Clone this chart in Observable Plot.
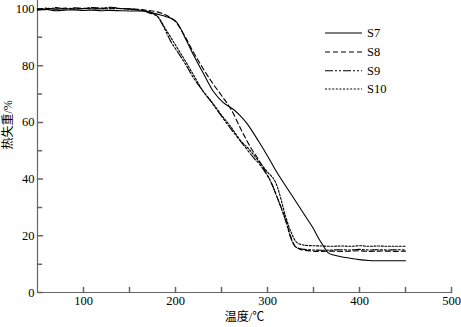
<!DOCTYPE html>
<html><head><meta charset="utf-8">
<script src="https://cdn.jsdelivr.net/npm/d3@7"></script>
<script src="https://cdn.jsdelivr.net/npm/@observablehq/plot@0.6"></script>
<style>
body{margin:0;background:#fff}
#c{position:relative;width:461px;height:327px}
#c svg{position:absolute;left:0;top:0}
#c text{font-family:"Liberation Serif","Tinos","Times New Roman","DejaVu Serif",serif}
#c text.cjk{font-family:"Liberation Serif","Noto Sans CJK SC",serif}
</style>
</head><body><div id="c"></div>
<script>
const seriesNames = ["S7", "S8", "S9", "S10"];
const xMajor = [100, 200, 300, 400, 500];
const xMinor = [150, 250, 350, 450];
const yMajor = [0, 20, 40, 60, 80, 100];
const yMinor = [10, 30, 50, 70, 90];
const xLabel = "温度/℃";
const yLabel = "热失重/%";

const s7T = [50,60,70,80,90,100,110,120,130,140,150,160,170,180,190,200,212,220,230,241,252,262,270,278,290,303,310,325,340,350,355,361,366,372,380,390,400,410,420,430,440,450];
const s7V = [99.6,99.8,99.4,99.6,99.7,99.5,99.6,99.4,99.5,99.4,99.3,99.3,99.0,98.2,97.3,95.8,88.8,83.5,77.5,71,67,64.8,62.5,59.5,53.5,46.5,42.5,35,27.5,22.5,19.4,16.3,14,13.2,12.6,12.1,11.6,11.3,11.2,11.2,11.2,11.2];

const s8T = [50,60,70,80,90,100,110,120,130,140,150,160,170,180,190,200,210,220,230,240,250,260,272,282,290,303,310,320,325,330,335,340,350,360,370,380,390,400,410,420,430,440,450];
const s8V = [99.9,100.2,100.0,100.3,100.1,100.2,100.0,100.2,100.3,100.1,100.0,99.9,99.5,99.0,97.8,95.5,90.5,84.5,79,74,69.5,64.8,57,51,47,39.5,34,25.5,20,16.3,15.3,14.9,14.6,14.5,14.6,14.5,14.6,14.7,14.5,14.6,14.6,14.5,14.6];

const s9T = [50,60,70,80,90,100,110,120,130,140,150,160,165,170,180,185,195,200,210,220,227,238,256,274,285,292,303,310,320,325,330,335,340,350,360,370,380,390,400,410,420,430,440,450];
const s9V = [100.1,99.8,100.5,100.0,100.4,100.2,100.5,100.3,100.6,100.2,100.1,99.7,99.5,98.8,97.5,95,88.5,86,81,75.5,72.3,67.6,59.5,52,47.5,45,39.4,34,25,19.5,16.3,15.5,15.2,15.0,14.9,15.0,15.1,15.0,15.2,15.0,15.1,15.0,15.1,15.0];

const s10T = [50,60,70,80,90,100,110,120,130,140,150,160,170,180,190,200,210,220,230,240,249,260,271,280,290,300,308,320,326,332,340,350,360,370,380,390,400,410,420,430,440,450];
const s10V = [99.8,100.3,99.9,100.1,100.0,100.2,100.3,100.0,100.1,100.2,99.9,99.6,99.2,97.5,92.5,87.3,82,76.5,71,67,63,58.5,53.5,50.5,46.5,42.5,39.4,26.5,21,17.6,16.7,16.5,16.4,16.3,16.4,16.3,16.5,16.3,16.4,16.3,16.3,16.3];

const seriesT = [s7T, s8T, s9T, s10T];
const seriesV = [s7V, s8V, s9V, s10V];
const dashes = [null, "5,3", "8,2,2,2,2,2", "2,1.6"];

const rows = [];
seriesNames.forEach((name, k) => {
  seriesT[k].forEach((t, i) => rows.push({series: name, t, v: seriesV[k][i]}));
});

const upTick = {draw(ctx, l) { ctx.moveTo(0, 0); ctx.lineTo(0, -l); }};
const axisGray = "#666";

const lineMarks = seriesNames.map((name, k) =>
  Plot.line(rows.filter(d => d.series === name), {
    x: "t", y: "v", stroke: "#000", strokeWidth: 1.1,
    strokeDasharray: dashes[k], curve: "catmull-rom"
  })
);

const plot = Plot.plot({
  width: 461, height: 327,
  marginLeft: 37, marginRight: 10, marginTop: 0, marginBottom: 35,
  style: {fontSize: "12px", background: "#fff", color: "#000"},
  x: {domain: [50, 500]},
  y: {domain: [0, 103]},
  marks: [
    Plot.ruleY([0], {stroke: axisGray, strokeWidth: 1.2}),
    Plot.ruleX([50], {stroke: axisGray, strokeWidth: 1.2}),
    Plot.vector(xMajor, {x: d => d, y: () => 0, length: 5, rotate: 0, anchor: "start", shape: upTick, stroke: axisGray}),
    Plot.vector(xMinor, {x: d => d, y: () => 0, length: 5, rotate: 0, anchor: "start", shape: upTick, stroke: axisGray}),
    Plot.vector(yMajor, {x: () => 50, y: d => d, length: 5, rotate: 90, anchor: "start", shape: upTick, stroke: axisGray}),
    Plot.vector(yMinor, {x: () => 50, y: d => d, length: 4, rotate: 90, anchor: "start", shape: upTick, stroke: axisGray}),
    Plot.axisX({ticks: xMajor, tickSize: 0, tickPadding: 4, label: null, fontSize: 12.5}),
    Plot.axisY({ticks: yMajor, tickSize: 0, tickPadding: 3, label: null, fontSize: 12.5}),
    Plot.text([xLabel], {frameAnchor: "bottom", dy: 28, fontSize: 12, className: "cjk"}),
    Plot.text([yLabel], {frameAnchor: "left", rotate: -90, dx: -29, dy: 3, fontSize: 12, className: "cjk"}),
    ...lineMarks
  ]
});
const c = document.getElementById("c");
c.appendChild(plot);
d3.select(plot).selectAll("g.cjk text, text.cjk").classed("cjk", true);

// legend overlay
const leg = d3.select(c).append("svg").attr("width", 461).attr("height", 327)
  .style("pointer-events", "none");
const legY = [33, 52, 70.7, 89];
seriesNames.forEach((name, k) => {
  leg.append("line").attr("x1", 325).attr("x2", 362).attr("y1", legY[k]).attr("y2", legY[k])
    .attr("stroke", "#000").attr("stroke-width", 1.1)
    .attr("stroke-dasharray", dashes[k]);
  leg.append("text").attr("x", 367).attr("y", legY[k]).attr("dy", "0.35em")
    .attr("font-size", 12.5).text(name);
});
</script>
</body></html>
